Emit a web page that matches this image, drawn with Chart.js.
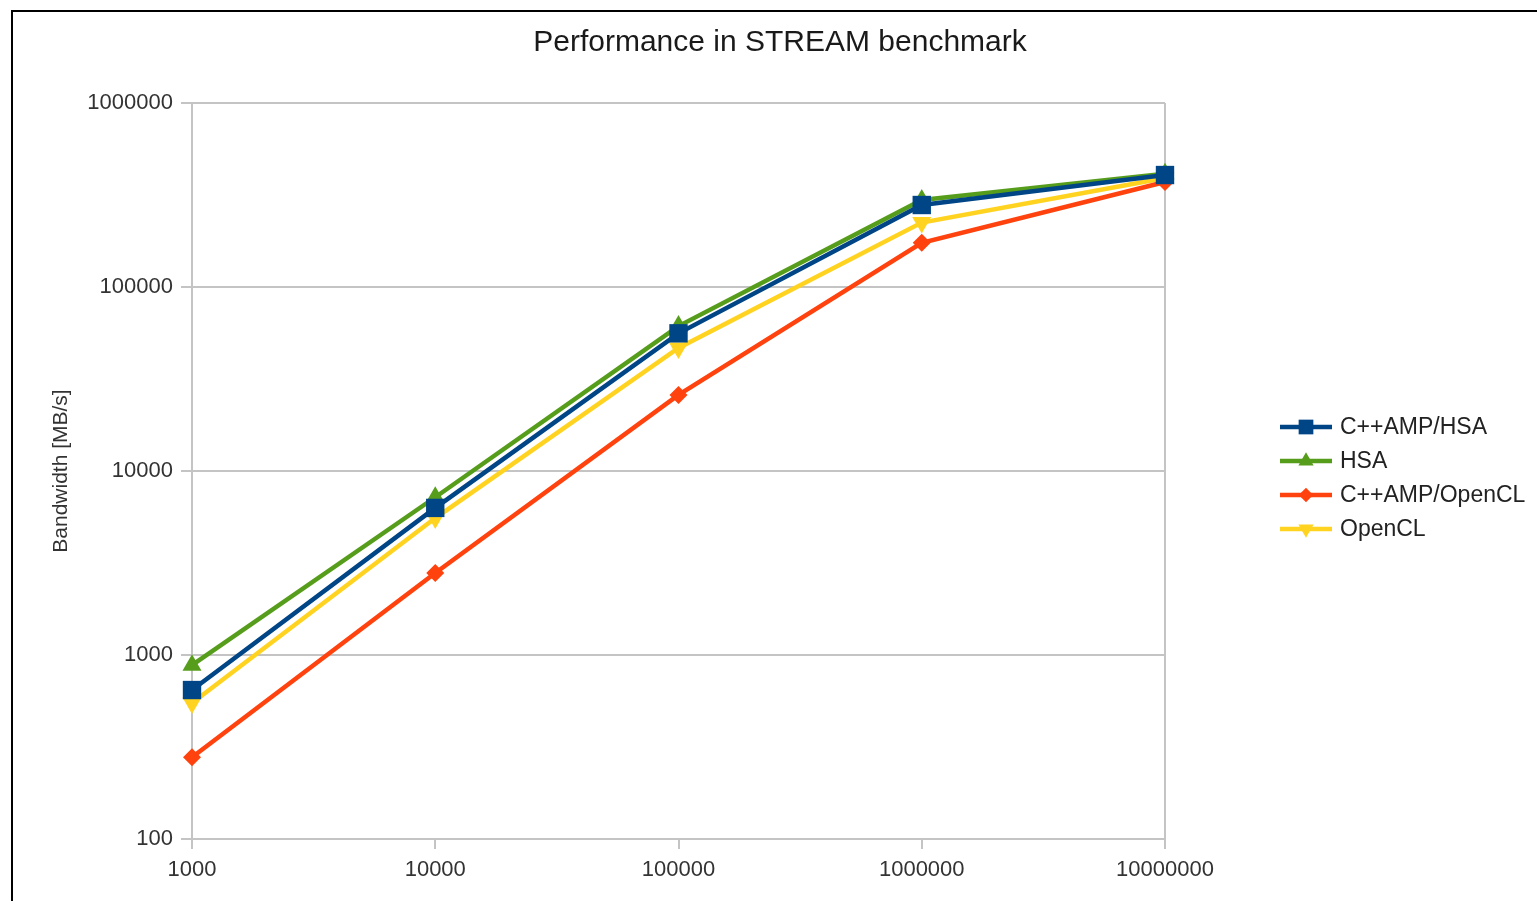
<!DOCTYPE html>
<html>
<head>
<meta charset="utf-8">
<title>Performance in STREAM benchmark</title>
<script src="https://cdn.jsdelivr.net/npm/chart.js@4"></script>
<style>
  html, body { margin: 0; padding: 0; background: #fff; overflow: hidden; }
  canvas { position: absolute; left: 0; top: 0; }
  #frame { position: absolute; left: 11px; top: 10px; width: 1700px; height: 1100px;
           border: 2px solid #000; box-sizing: border-box; pointer-events: none; }
</style>
</head>
<body>
<canvas id="streamChart" width="1537" height="901"></canvas>
<div id="frame"></div>
<script>
// array sizes on the x axis, bandwidth in MB/s for each series
const arraySizes = [1000, 10000, 100000, 1000000, 10000000];
const ampHsa = [645, 6300, 56000, 279000, 406000];
const hsa = [880, 7200, 61300, 297000, 412000];
const ampOpenCl = [278, 2790, 25900, 174000, 372000];
const openCl = [548, 5550, 46600, 224000, 391000];

const xTicks = [1000, 10000, 100000, 1000000, 10000000];
const yTicks = [100, 1000, 10000, 100000, 1000000];

const FONT = '"Liberation Sans", Arial, sans-serif';
const GRID = '#c4c4c4';

const toPoints = vals => vals.map((v, i) => ({ x: arraySizes[i], y: v }));

function series(label, vals, color, style, radius, rotation) {
  return {
    label: label,
    data: toPoints(vals),
    borderColor: color,
    backgroundColor: color,
    borderWidth: 4.5,
    pointStyle: style,
    pointRadius: radius,
    pointHoverRadius: radius,
    pointRotation: rotation || 0,
    pointBorderWidth: 0,
    tension: 0,
    clip: false
  };
}

// title and the line+marker legend on the right
const titleAndLegend = {
  id: 'titleAndLegend',
  afterDraw(chart) {
    const ctx = chart.ctx;
    ctx.save();
    ctx.fillStyle = '#1a1a1a';
    ctx.font = '30px ' + FONT;
    ctx.textAlign = 'center';
    ctx.textBaseline = 'middle';
    ctx.fillText('Performance in STREAM benchmark', 780, 43);

    chart.data.datasets.forEach((ds, i) => {
      const y = 427 + i * 34;
      ctx.strokeStyle = ds.borderColor;
      ctx.lineWidth = 4.5;
      ctx.beginPath();
      ctx.moveTo(1280, y);
      ctx.lineTo(1332, y);
      ctx.stroke();
      ctx.fillStyle = ds.borderColor;
      Chart.helpers.drawPoint(ctx, {
        pointStyle: ds.pointStyle,
        rotation: ds.pointRotation,
        radius: ds.pointRadius * 0.8,
        borderWidth: 0
      }, 1306, y);
      ctx.fillStyle = '#222';
      ctx.font = '23px ' + FONT;
      ctx.textAlign = 'left';
      ctx.fillText(ds.label, 1340, y + 1);
    });
    ctx.restore();
  }
};

new Chart(document.getElementById('streamChart'), {
  type: 'line',
  data: {
    datasets: [
      series('C++AMP/HSA', ampHsa, '#004586', 'rect', 13),
      series('HSA', hsa, '#579d1c', 'triangle', 11),
      series('C++AMP/OpenCL', ampOpenCl, '#ff420e', 'rectRot', 9),
      series('OpenCL', openCl, '#ffd320', 'triangle', 11, 180)
    ]
  },
  options: {
    responsive: false,
    animation: false,
    devicePixelRatio: 1,
    layout: { padding: { top: 103, right: 372, bottom: 0, left: 0 } },
    plugins: {
      legend: { display: false },
      title: { display: false },
      tooltip: { enabled: false }
    },
    scales: {
      x: {
        type: 'logarithmic',
        min: 1000,
        max: 10000000,
        afterBuildTicks: s => { s.ticks = xTicks.map(v => ({ value: v })); },
        afterFit: s => { s.height = 62; },
        grid: {
          color: ctx => (ctx.index === 0 || ctx.index === xTicks.length - 1) ? GRID : 'rgba(0,0,0,0)',
          tickColor: GRID,
          lineWidth: 2,
          tickLength: 10
        },
        border: { color: GRID, width: 2 },
        ticks: {
          padding: 8,
          color: '#333',
          maxRotation: 0,
          autoSkip: false,
          font: { size: 22, family: FONT },
          callback: v => String(v)
        }
      },
      y: {
        type: 'logarithmic',
        min: 100,
        max: 1000000,
        afterBuildTicks: s => { s.ticks = yTicks.map(v => ({ value: v })); },
        afterFit: s => { s.width = 192; },
        grid: { color: GRID, tickColor: GRID, lineWidth: 2, tickLength: 11 },
        border: { color: GRID, width: 2 },
        ticks: {
          padding: 8,
          color: '#333',
          autoSkip: false,
          font: { size: 22, family: FONT },
          callback: v => String(v)
        },
        title: {
          display: true,
          text: 'Bandwidth [MB/s]',
          color: '#333',
          padding: { top: 49, bottom: 0 },
          font: { size: 21, family: FONT }
        }
      }
    }
  },
  plugins: [titleAndLegend]
});
</script>
</body>
</html>
